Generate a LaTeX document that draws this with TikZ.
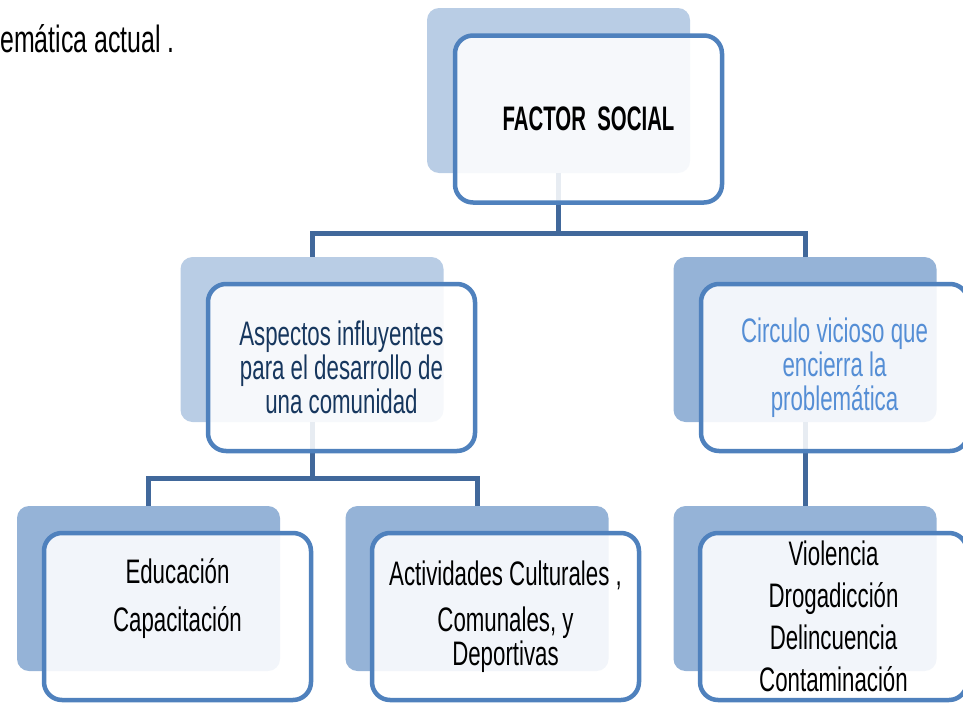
\documentclass[tikz,border=0pt]{standalone}
\usepackage{fontspec}
\setmainfont{Liberation Sans}[FakeStretch=0.655,BoldFeatures={FakeStretch=0.6}]
\definecolor{pale}{HTML}{B9CDE5}
\definecolor{shade}{HTML}{95B3D7}
\definecolor{rim}{HTML}{4F81BD}
\definecolor{wirecol}{HTML}{41689B}
\definecolor{navy}{HTML}{17375E}
\definecolor{sky}{HTML}{558ED5}
\tikzset{
  backbox/.style={rectangle,rounded corners=12pt,minimum width=263pt,
    minimum height=165pt,inner sep=0pt},
  frontbox/.style={rectangle,draw=rim,line width=4.5pt,rounded corners=18pt,
    fill=white,fill opacity=.88,text opacity=1,minimum width=267pt,
    minimum height=167pt,inner sep=0pt,align=center,
    font=\fontsize{34}{34}\selectfont},
  wire/.style={draw=wirecol,line width=5pt}
}
\begin{document}
\begin{tikzpicture}[x=1pt,y=-1pt]
\useasboundingbox (0,0) rectangle (963,704);
\node[anchor=base west,inner sep=0pt,font=\fontsize{38}{40}\selectfont] (intro) at (0,52) {emática actual .};
% shadow panels
\node[backbox,fill=pale] (topback) at (558.5,90.5) {};
\node[backbox,fill=pale] (leftback) at (312,339.5) {};
\node[backbox,fill=shade] (rightback) at (805,339.5) {};
\node[backbox,fill=shade] (eduback) at (148.5,588.5) {};
\node[backbox,fill=shade] (actback) at (477,588.5) {};
\node[backbox,fill=shade] (vioback) at (805,588.5) {};
% connectors
\draw[wire] (topback.south) -- ++(0,60) -| (leftback.north);
\draw[wire] (topback.south) ++(0,60) -| (rightback.north);
\draw[wire] (leftback.south) -- ++(0,56) -| (eduback.north);
\draw[wire] (leftback.south) ++(0,56) -| (actback.north);
\draw[wire] (rightback.south) -- (vioback.north);
% boxes
\node[frontbox] (social) at (588.5,119) {\textbf{FACTOR\ \ SOCIAL}};
\node[frontbox,text=navy] (aspectos) at (341.5,367.5) {Aspectos influyentes\\para el desarrollo de\\una comunidad};
\node[frontbox,text=sky] (circulo) at (834.5,367.5) {Circulo vicioso que\\encierra la\\problemática};
\node[frontbox] (edu) at (177.5,616.5) {Educación\\[14pt]Capacitación\\[9pt]\mbox{}};
\node[frontbox] (act) at (505.5,616.5) {Actividades Culturales ,\\[12pt]Comunales, y\\Deportivas};
\node[frontbox] (vio) at (833.5,616.5) {Violencia\\[8pt]Drogadicción\\[8pt]Delincuencia\\[8pt]Contaminación};
\end{tikzpicture}
\end{document}
